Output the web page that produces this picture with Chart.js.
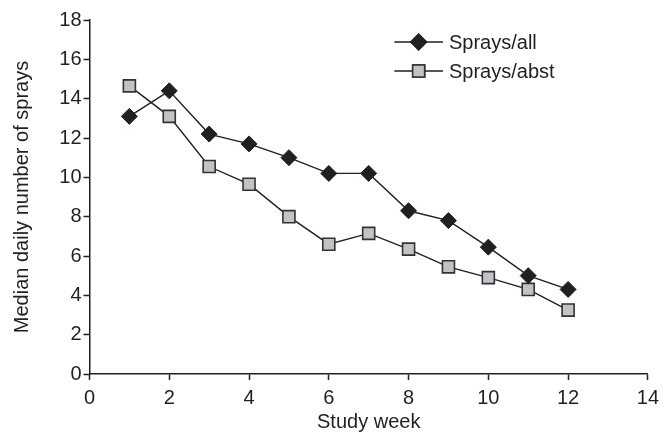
<!DOCTYPE html>
<html>
<head>
<meta charset="utf-8">
<script src="https://cdn.jsdelivr.net/npm/chart.js@4/dist/chart.umd.min.js"></script>
<style>
  html, body { margin: 0; padding: 0; background: #fff; }
  #wrap { width: 665px; height: 432px; }
</style>
</head>
<body>
<div id="wrap"><canvas id="chart" width="665" height="432"></canvas></div>
<script>
// study weeks and the two median series
const weeks = [1, 2, 3, 4, 5, 6, 7, 8, 9, 10, 11, 12];
const spraysAll = [13.1, 14.4, 12.2, 11.7, 11.0, 10.2, 10.2, 8.3, 7.8, 6.45, 5.0, 4.3];
const spraysAbst = [14.65, 13.1, 10.55, 9.65, 8.0, 6.6, 7.15, 6.35, 5.45, 4.9, 4.3, 3.25];
const seriesNames = ["Sprays/all", "Sprays/abst"];
const xTitle = "Study week";
const yTitle = "Median daily number of sprays";

const FONT = "'Liberation Sans', Arial, Helvetica, sans-serif";
const ink = "#231f20";

const toPoints = (vals) => vals.map((v, i) => ({ x: weeks[i], y: v }));

// legend drawn like the original: line - marker - line, then label
const lineLegend = {
  id: "lineLegend",
  afterDraw(chart) {
    const { ctx, chartArea } = chart;
    const w = chartArea.right - chartArea.left;
    const x0 = chartArea.left + w * 0.546;
    const x1 = chartArea.left + w * 0.633;
    const rows = [chartArea.top + 22, chartArea.top + 51];
    chart.data.datasets.forEach((ds, i) => {
      const y = rows[i];
      ctx.save();
      ctx.strokeStyle = ink;
      ctx.lineWidth = 1.4;
      ctx.beginPath();
      ctx.moveTo(x0, y);
      ctx.lineTo(x1, y);
      ctx.stroke();
      Chart.helpers.drawPoint(ctx, {
        pointStyle: ds.pointStyle,
        radius: ds.pointRadius,
        borderWidth: ds.pointBorderWidth
      }, (x0 + x1) / 2, y);
      ctx.fillStyle = ds.pointBackgroundColor;
      ctx.strokeStyle = ds.pointBorderColor;
      ctx.lineWidth = ds.pointBorderWidth;
      ctx.fill();
      ctx.stroke();
      ctx.fillStyle = ink;
      ctx.font = "20px " + FONT;
      ctx.textBaseline = "middle";
      ctx.fillText(ds.label, x1 + 6, y + 1);
      ctx.restore();
    });
  }
};

new Chart(document.getElementById("chart"), {
  type: "line",
  data: {
    datasets: [
      {
        label: seriesNames[0],
        data: toPoints(spraysAll),
        borderColor: ink,
        borderWidth: 1.4,
        pointStyle: "rectRot",
        pointRadius: 8,
        pointBackgroundColor: ink,
        pointBorderColor: ink,
        pointBorderWidth: 1,
        tension: 0
      },
      {
        label: seriesNames[1],
        data: toPoints(spraysAbst),
        borderColor: ink,
        borderWidth: 1.4,
        pointStyle: "rect",
        pointRadius: 8.5,
        pointBackgroundColor: "#c2c3c7",
        pointBorderColor: "#333333",
        pointBorderWidth: 1.6,
        tension: 0
      }
    ]
  },
  options: {
    responsive: false,
    animation: false,
    devicePixelRatio: 1,
    layout: { padding: { left: 0, right: 14, top: 20, bottom: 0 } },
    plugins: {
      legend: { display: false },
      tooltip: { enabled: false }
    },
    scales: {
      x: {
        type: "linear",
        min: 0,
        max: 14,
        afterFit: (s) => { s.height = 58; },
        border: { color: ink, width: 1.5 },
        grid: { drawOnChartArea: false, drawTicks: true, tickLength: 6, tickColor: ink, tickWidth: 1.5 },
        ticks: { stepSize: 2, color: ink, padding: 6, maxRotation: 0, font: { family: FONT, size: 20 } },
        title: { display: true, text: xTitle, color: ink, padding: { top: 0, bottom: -2 }, font: { family: FONT, size: 20 } }
      },
      y: {
        min: 0,
        max: 18,
        afterFit: (s) => { s.width = 89.5; },
        border: { color: ink, width: 1.5 },
        grid: { drawOnChartArea: false, drawTicks: true, tickLength: 6, tickColor: ink, tickWidth: 1.5 },
        ticks: { stepSize: 2, color: ink, padding: 2, font: { family: FONT, size: 20 } },
        title: { display: true, text: yTitle, color: ink, padding: { top: 10, bottom: 0 }, font: { family: FONT, size: 20 } }
      }
    }
  },
  plugins: [lineLegend]
});
</script>
</body>
</html>
